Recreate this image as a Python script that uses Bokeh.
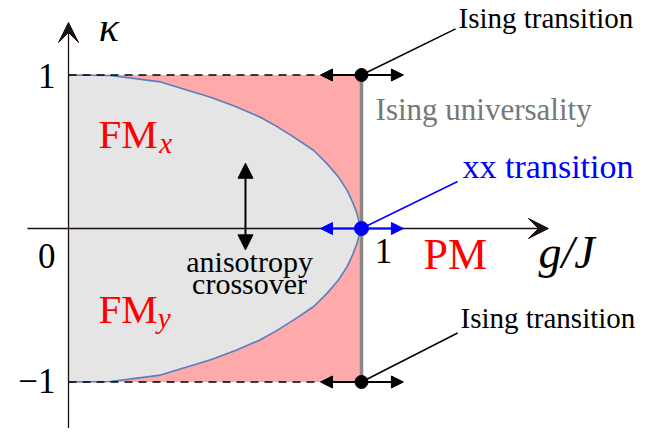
from bokeh.plotting import figure
from bokeh.models import Range1d, Arrow, NormalHead, VeeHead, Label
from bokeh.embed import file_html
from bokeh.resources import INLINE

# ---------------- data ----------------
g_critical = 1.0
kappa_limits = [-1.0, 1.0]

boundary_g_upper = [0.0, 0.143, 0.314, 0.485, 0.57, 0.655, 0.712, 0.769, 0.837, 0.883, 0.922, 0.951, 0.970, 0.985, 0.991, 0.993]
boundary_k_upper = [1.0, 0.997, 0.955, 0.855, 0.795, 0.725, 0.664, 0.595, 0.508, 0.421, 0.334, 0.248, 0.170, 0.096, 0.048, 0.0]
boundary_g_lower = [0.991, 0.985, 0.970, 0.951, 0.922, 0.883, 0.837, 0.769, 0.712, 0.655, 0.57, 0.485, 0.314, 0.143, 0.0]
boundary_k_lower = [-0.048, -0.096, -0.170, -0.248, -0.334, -0.421, -0.508, -0.595, -0.664, -0.725, -0.795, -0.855, -0.955, -0.997, -1.0]

ising_g = [1.0, 1.0]
ising_k = [1.0, -1.0]
xx_g = [1.0]
xx_k = [0.0]
flow_tip_left = 0.86
flow_tip_right = 1.143
crossover_g = 0.604
crossover_k = [-0.139, 0.425]

x_ticks = [1.0]
x_tick_labels = ["1"]
y_ticks = [1.0, 0.0, -1.0]
y_tick_labels = ["1", "0", "\u22121"]

# ---------------- figure ----------------
SX = 293.0   # px per unit g
SY = 153.5   # px per unit kappa
W, H = 641, 428
x0 = -68.0 / SX
y1 = 228.0 / SY
p = figure(width=W, height=H, output_backend="svg", toolbar_location=None,
           x_range=Range1d(x0, x0 + W / SX), y_range=Range1d(y1 - H / SY, y1),
           x_axis_location=None, y_axis_location=None, min_border=0,
           background_fill_color="white", border_fill_color="white")
p.outline_line_color = None
p.grid.visible = False

SERIF = "Liberation Serif"

# paramagnetic strip below g_c (pink)
p.quad(left=[0.0], right=[g_critical], bottom=[kappa_limits[0]], top=[kappa_limits[1]],
       fill_color="#ffaaaa", line_color=None)

# ferromagnetic region (gray)
bg = boundary_g_upper + boundary_g_lower
bk = boundary_k_upper + boundary_k_lower
p.patch(bg, bk, fill_color="#e5e5e5", line_color=None)
p.line(bg, bk, line_color="#5a7dbf", line_width=1.6, line_join="round")

# dashed lines at kappa = +-1
for k in kappa_limits:
    p.line([0.0, flow_tip_left], [k, k], line_color="black", line_width=1.5, line_dash="8 6")

# Ising universality line
p.line([g_critical, g_critical], kappa_limits, line_color="#888888", line_width=3.5)

# axes
ax_col = "#1a1010"
p.add_layout(Arrow(end=VeeHead(size=20, fill_color=ax_col, line_color=ax_col, line_width=1),
                   x_start=-0.14, y_start=0.0, x_end=1.638, y_end=0.0,
                   line_color=ax_col, line_width=1.3))
p.add_layout(Arrow(end=VeeHead(size=20, fill_color=ax_col, line_color=ax_col, line_width=1),
                   x_start=0.0, y_start=-1.36, x_end=0.0, y_end=1.342,
                   line_color=ax_col, line_width=1.3))

# flow double arrows
for gk, col in [(ising_k[0], "black"), (ising_k[1], "black"), (xx_k[0], "#0000ff")]:
    p.add_layout(Arrow(start=NormalHead(size=12, fill_color=col, line_color=col, line_width=1),
                       end=NormalHead(size=12, fill_color=col, line_color=col, line_width=1),
                       x_start=flow_tip_left, y_start=gk, x_end=flow_tip_right, y_end=gk,
                       line_color=col, line_width=2.2))

# anisotropy crossover arrow
p.add_layout(Arrow(start=NormalHead(size=15, fill_color="black", line_color="black", line_width=1),
                   end=NormalHead(size=15, fill_color="black", line_color="black", line_width=1),
                   x_start=crossover_g, y_start=crossover_k[0], x_end=crossover_g, y_end=crossover_k[1],
                   line_color="black", line_width=2))

# annotation leader lines
p.line([1.0, 1.321], [1.0, 1.30], line_color="black", line_width=1.5)
p.line([1.0, 1.328], [-1.0, -0.681], line_color="black", line_width=1.5)
p.line([1.0, 1.328], [0.0, 0.306], line_color="#0000ff", line_width=1.5)

# critical points
r1 = p.scatter(ising_g, ising_k, size=13, fill_color="black", line_color="black")
r2 = p.scatter(xx_g, xx_k, size=14, fill_color="#0000ff", line_color="#0000ff")
r1.level = "overlay"
r2.level = "overlay"

def lab(x, y, text, size, color="black", align="left", style="normal", font=SERIF):
    # raise to compensate the renderer's baseline placement
    y = y + 0.33 * size / SY
    p.add_layout(Label(x=x, y=y, text=text, text_font=font, text_font_size=f"{size}px",
                       text_color=color, text_align=align, text_baseline="alphabetic",
                       text_font_style=style))

# tick labels
lab(-0.044, y_ticks[0] - 0.081, y_tick_labels[0], 35, align="right")
lab(-0.044, y_ticks[1] - 0.254, y_tick_labels[1], 35, align="right")
lab(-0.044, y_ticks[2] - 0.068, y_tick_labels[2], 35, align="right")
lab(x_ticks[0] + 0.075, -0.221, x_tick_labels[0], 35, align="center")

# axis titles
lab(0.138, 1.225, "\u03ba", 42, align="center", style="italic")
lab(1.70, -0.254, "g/J", 46, align="center", style="italic")

# phase labels
lab(1.212, -0.261, "PM", 44, color="#ff0000")
lab(0.102, 0.528, "FM", 41, color="#ff0000")
lab(0.31, 0.495, "x", 29, color="#ff0000", style="italic")
lab(0.102, -0.612, "FM", 41, color="#ff0000")
lab(0.305, -0.645, "y", 29, color="#ff0000", style="italic")

lab(0.618, -0.280, "anisotropy", 30, align="center")
lab(0.618, -0.420, "crossover", 30, align="center")

lab(1.331, 1.312, "Ising transition", 29)
lab(1.338, -0.645, "Ising transition", 29)
lab(1.048, 0.710, "Ising universality", 31, color="#777777")
lab(1.345, 0.332, "xx transition", 34, color="#0000ff")

open("out.html", "w").write(file_html(p, INLINE))
